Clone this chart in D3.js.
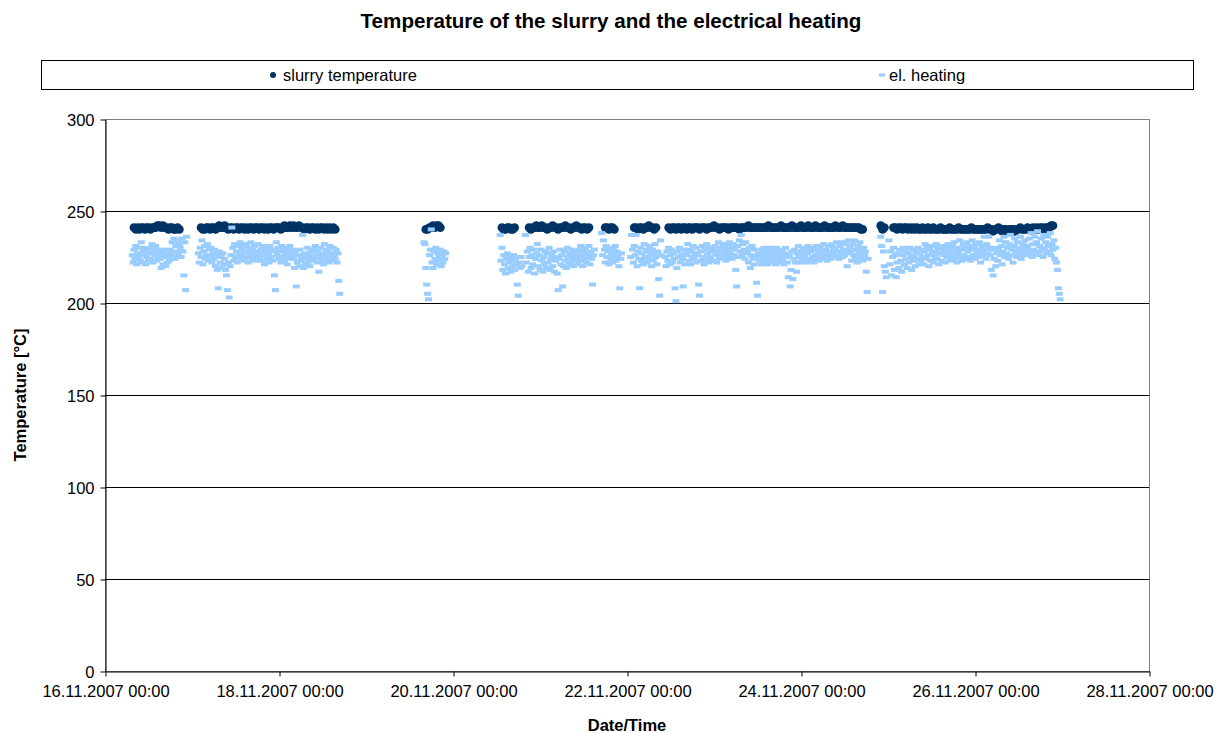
<!DOCTYPE html>
<html><head><meta charset="utf-8">
<script src="https://cdn.jsdelivr.net/npm/d3@7/dist/d3.min.js"></script>
<style>
body{margin:0;background:#fff;}
svg text{font-family:"Liberation Sans",Arial,sans-serif;fill:#000;}
</style></head>
<body><svg id="c" width="1225" height="733"></svg>
<script>
// ---- data ----
const titleText = "Temperature of the slurry and the electrical heating";
const seriesNames = ["slurry temperature", "el. heating"];
const yTicks = [0, 50, 100, 150, 200, 250, 300];
const xTickLabels = ["16.11.2007 00:00","18.11.2007 00:00","20.11.2007 00:00","22.11.2007 00:00","24.11.2007 00:00","26.11.2007 00:00","28.11.2007 00:00"];

// slurry temperature: readings every 30 min, one array per recorded block
const slurryStarts = ["16.11.2007 08:00","17.11.2007 02:30","19.11.2007 16:30","20.11.2007 13:30","20.11.2007 21:00","21.11.2007 18:00","22.11.2007 02:00","22.11.2007 11:30","24.11.2007 22:00","25.11.2007 01:30"];
const slurryBlocks = [
 [241,240,241,240,241,241,240,241,241,240,241,241,241,242,242,241,242,241,241,240,241,241,240,240,241,240],
 [241,240,240,241,241,240,241,241,240,241,242,241,241,242,241,240,241,241,240,241,241,240,241,241,240,241,240,241,241,240,241,241,240,241,241,240,241,240,241,241,240,241,241,241,240,241,242,241,241,242,241,242,241,241,242,241,241,240,241,241,240,241,241,240,241,240,241,241,240,241,240,241,240,241,240],
 [240,240,241,241,242,241,242,242,241],
 [241,240,240,241,241,240,240,241],
 [241,240,241,241,242,241,241,242,241,241,240,241,241,242,241,241,240,241,241,241,242,241,241,240,241,241,242,241,241,240,241,241,240,241],
 [241,241,240,241,241,240],
 [241,241,240,241,241,240,241,241,242,241,241,240,241],
 [241,240,241,241,240,241,241,240,241,241,240,241,241,240,241,241,241,240,241,241,241,240,241,241,241,242,241,241,240,241,241,241,241,240,241,241,241,241,241,240,241,241,241,241,242,241,241,241,241,241,241,241,241,241,241,242,241,241,241,241,241,241,242,241,241,241,241,241,242,241,241,241,241,242,241,241,241,242,241,241,241,242,241,241,241,241,242,241,241,241,241,241,242,241,241,241,242,241,241,241,241,241,241,241,241,241,240,240],
 [242,240,241],
 [241,241,240,241,241,240,241,241,240,241,240,241,240,241,240,240,241,240,240,241,240,240,241,240,240,240,241,240,240,240,240,241,240,240,240,240,241,240,240,240,240,240,240,241,240,240,240,240,240,240,240,240,241,240,240,239,240,240,241,240,239,240,240,239,240,240,240,239,240,240,241,240,240,240,241,240,240,241,240,241,240,241,241,240,241,241,241,242,242]
];

// el. heating: readings every 15 min, one array per recorded block
const heatingStarts = ["16.11.2007 07:30","17.11.2007 01:45","19.11.2007 16:00","20.11.2007 13:00","20.11.2007 20:00","21.11.2007 17:00","22.11.2007 01:00","22.11.2007 10:30","24.11.2007 22:00","25.11.2007 00:15"];
const heatingBlocks = [
 [226,222,229,224,231,221,227,225,230,223,233,222,228,226,230,221,225,229,223,227,
  230,224,232,222,228,226,231,223,229,225,227,
  224,219,228,221,226,229,220,225,222,227,223,
  229,225,233,227,235,224,231,228,234,226,232,230,225,235,228,215,233,207,236],
 [227,222,230,225,234,221,228,231,224,226,232,223,229,225,230,222,227,
  224,229,220,226,218,208,228,222,225,219,227,221,224,218,215,207,222,203,220,
  226,241,230,223,232,225,228,222,231,227,233,224,229,226,231,223,228,232,225,222,230,227,233,224,229,226,231,223,228,225,232,227,224,
  229,223,231,226,221,228,230,224,227,222,231,225,229,223,228,215,207,233,226,230,224,228,222,231,225,229,223,227,230,221,228,225,231,224,226,229,
  224,219,228,209,222,226,220,229,223,225,237,219,227,221,224,230,222,226,220,228,223,225,
  229,224,231,226,222,228,217,225,230,223,227,221,232,226,229,224,228,222,231,225,227,223,230,226,224,229,222,227,212,205],
 [233,232,219,210,205,202,226,229,240,222,219,228,224,230,221,227,223,225,229,220,226,222,228,224,227],
 [237,223,230,218,226,221,216,224,227,219,222,225,217,223,220,226,218,224,221,210,204,222,219,225,220],
 [237,222,228,217,225,230,219,226,221,229,216,224,227,
  232,220,226,218,229,223,217,225,221,228,219,227,222,230,218,224,226,220,228,217,223,225,
  216,207,224,229,221,226,209,220,228,223,219,230,225,222,227,221,229,224,220,226,223,228,
  225,221,229,223,231,226,220,228,224,230,222,227,225,231,221,228,224,210,226,229],
 [238,226,234,229,222,231,225,228,221,230,224,227,222,229,226,231,223,228,225,220,208,224,227],
 [225,237,229,222,231,226,237,220,228,224,208,230,223,227,221,232,225,229,222,228,224,231,226,220,229,223,227,232,225,221,228,213,204,234,226],
 [225,220,228,223,230,221,226,229,222,227,224,208,201,219,228,225,230,222,226,224,209,229,221,227,
  226,232,223,229,221,228,225,231,224,227,222,230,226,210,204,228,223,231,225,221,229,224,232,227,222,230,225,228,223,
  229,223,231,226,222,228,233,225,230,224,227,232,226,229,223,231,228,225,233,227,230,224,232,226,229,218,209,231,225,234,228,237,226,232,229,224,233,227,
  228,222,230,219,226,231,224,221,229,225,211,204,227,223,
  226,221,229,224,230,222,227,225,221,228,223,230,226,222,229,224,227,221,230,225,223,228,222,226,229,224,221,227,230,225,
  222,214,226,209,218,228,213,
  224,229,222,217,227,231,225,222,228,224,230,223,226,229,222,227,231,224,228,223,230,225,222,229,226,231,224,227,223,230,226,228,225,232,224,229,227,223,231,226,228,224,232,227,230,225,229,233,226,228,224,231,227,233,225,229,226,232,228,220,234,227,230,
  228,223,232,226,234,224,229,222,231,227,233,225,229,223,230,226,228,217,206,224],
 [236,231,206,228,220,217,214],
 [234,221,228,215,225,230,218,226,214,222,
  227,219,229,223,217,226,230,221,228,224,219,227,222,230,225,218,229,223,226,220,228,224,230,221,227,223,229,225,
  221,228,232,224,230,226,220,229,223,231,227,222,228,225,232,224,230,221,227,229,223,231,226,228,222,230,225,232,227,224,
  229,223,231,226,233,224,228,222,230,227,234,225,229,223,232,226,230,224,233,228,225,231,223,229,234,226,230,224,232,227,229,225,233,222,228,231,226,236,229,224,232,227,236,230,
  226,218,229,215,224,230,220,227,
  223,229,234,226,231,221,228,236,225,233,227,230,224,232,237,226,229,222,231,235,228,225,233,227,230,236,224,229,232,226,234,228,231,
  230,226,235,228,238,225,232,229,236,227,233,239,226,231,228,235,230,225,237,229,233,227,236,231,228,238,226,232,229,234,224,230,222,218,208,205,202]
];

// ---- build ----
const parse = d3.timeParse("%d.%m.%Y %H:%M");
function expand(starts, blocks, stepMin){
  const out = [];
  blocks.forEach((vals, b) => {
    const t0 = parse(starts[b]);
    vals.forEach((v, i) => out.push({t: d3.timeMinute.offset(t0, i*stepMin), v}));
  });
  return out;
}
const slurry = expand(slurryStarts, slurryBlocks, 30);
const heating = expand(heatingStarts, heatingBlocks, 15);

const svg = d3.select("#c");
const L = 105, R = 1149, T = 119, B = 671;
const xTicks = xTickLabels.map(parse);
const x = d3.scaleTime().domain([xTicks[0], xTicks[xTicks.length-1]]).range([L, R]);
const y = d3.scaleLinear().domain([0, 300]).range([B, T]);

// title
svg.append("text").attr("x", 611).attr("y", 28).attr("text-anchor","middle")
  .style("font-size","20.6px").style("font-weight","bold").text(titleText);

// legend
const lg = svg.append("g");
lg.append("rect").attr("x",41.5).attr("y",60.5).attr("width",1152).attr("height",29)
  .attr("fill","#fff").attr("stroke","#000").attr("stroke-width",1);
lg.append("circle").attr("cx",273).attr("cy",75).attr("r",3).attr("fill","#003366");
lg.append("text").attr("x",283).attr("y",81).style("font-size","16.5px").text(seriesNames[0]);
lg.append("rect").attr("x",879).attr("y",73.5).attr("width",6).attr("height",3).attr("fill","#99ccff");
lg.append("text").attr("x",889).attr("y",81).style("font-size","16.5px").text(seriesNames[1]);

// plot border (gray) and gridlines
svg.append("rect").attr("x",L+0.5).attr("y",T+0.5).attr("width",R-L).attr("height",B-T)
  .attr("fill","none").attr("stroke","#808080").attr("stroke-width",1);
svg.append("g").selectAll("line").data(yTicks.filter(d => d > 0 && d < 300)).join("line")
  .attr("x1",L).attr("x2",R).attr("y1",d=>Math.round(y(d))+0.5).attr("y2",d=>Math.round(y(d))+0.5)
  .attr("stroke","#000").attr("stroke-width",1);

// axes
const yAxis = svg.append("g").attr("transform",`translate(${L+0.5},0.5)`)
  .call(d3.axisLeft(y).tickValues(yTicks).tickSize(5).tickSizeOuter(0).tickPadding(6));
const xAxis = svg.append("g").attr("transform",`translate(0.5,${B+0.5})`)
  .call(d3.axisBottom(x).tickValues(xTicks).tickFormat(d3.timeFormat("%d.%m.%Y %H:%M")).tickSize(5).tickSizeOuter(0).tickPadding(9));
[yAxis, xAxis].forEach(a => {
  a.selectAll("path,line").attr("stroke","#000").attr("stroke-width",1);
  a.selectAll("text").style("font-size","16.5px").attr("fill","#000").style("font-family","'Liberation Sans',Arial,sans-serif");
});
yAxis.selectAll("text").attr("dy","0.35em");

// axis titles
svg.append("text").attr("x",627).attr("y",731).attr("text-anchor","middle")
  .style("font-size","16.5px").style("font-weight","bold").text("Date/Time");
svg.append("text").attr("transform","translate(26,395) rotate(-90)").attr("text-anchor","middle")
  .style("font-size","16.5px").style("font-weight","bold").text("Temperature [°C]");

// marks
svg.append("g").selectAll("circle").data(slurry).join("circle")
  .attr("cx", d => x(d.t)).attr("cy", d => y(d.v)).attr("r", 4.4).attr("fill","#003366");
svg.append("g").selectAll("rect").data(heating).join("rect")
  .attr("x", d => x(d.t) - 3.5).attr("y", d => y(d.v) - 2).attr("width", 7).attr("height", 4)
  .attr("fill","#99ccff");
</script></body></html>
